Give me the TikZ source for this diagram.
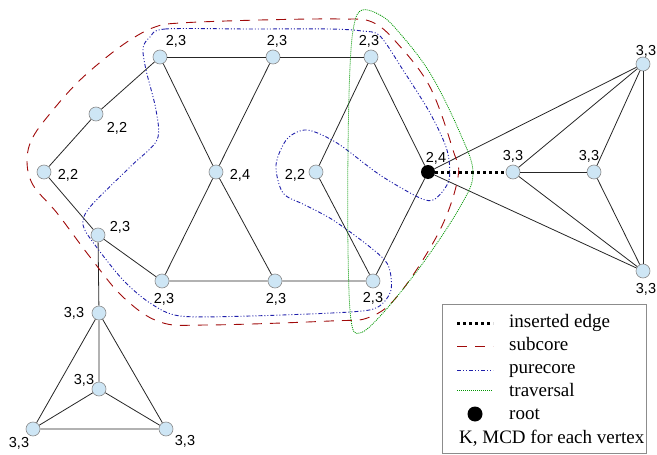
\documentclass[tikz,border=0pt]{standalone}
\usepackage{fontspec}
\setmainfont{Liberation Serif}
\setsansfont{Liberation Sans}
\usepackage{xcolor}
\definecolor{vfill}{RGB}{206,230,245}
\definecolor{subred}{RGB}{160,10,10}
\definecolor{pureblue}{RGB}{30,30,170}
\definecolor{travgreen}{RGB}{0,150,0}

\begin{document}
\begin{tikzpicture}[x=1pt, y=-1pt,
    vertex/.style={circle, draw=black!45, fill=vfill, minimum size=14pt, inner sep=0pt, line width=0.6pt},
    rootv/.style={circle, fill=black, minimum size=14pt, inner sep=0pt},
    klabel/.style={font=\sffamily\fontsize{14.5}{16}\selectfont, inner sep=0pt},
    edge/.style={black!85, line width=0.8pt},
    inserted/.style={black, line width=3pt, dash pattern=on 3pt off 3pt},
    subcore/.style={subred, line width=0.9pt, dash pattern=on 10pt off 8pt},
    purecore/.style={pureblue, line width=0.9pt, dash pattern=on 4pt off 2pt on 1pt off 2pt on 1pt off 2pt},
    traversal/.style={travgreen, line width=0.8pt, dash pattern=on 1pt off 1pt},
    legtext/.style={font=\fontsize{19}{22}\selectfont, anchor=base west, inner sep=0pt}]
        \useasboundingbox (0,0) rectangle (657,455);

        % Vertices
        \node[vertex] (a) at (160,57) {};
        \node[vertex] (b) at (273,57) {};
        \node[vertex] (c) at (371,57) {};
        \node[vertex] (d) at (96,114) {};
        \node[vertex] (e) at (44,172) {};
        \node[vertex] (f) at (216,172) {};
        \node[vertex] (g) at (316,172) {};
        \node[rootv]  (r) at (428,172) {};
        \node[vertex] (h) at (98,235) {};
        \node[vertex] (i) at (162,281) {};
        \node[vertex] (j) at (275,281) {};
        \node[vertex] (k) at (373,281) {};
        \node[vertex] (l) at (513,172) {};
        \node[vertex] (m) at (594,172) {};
        \node[vertex] (n) at (643,64) {};
        \node[vertex] (o) at (643,271) {};
        \node[vertex] (p) at (99,313) {};
        \node[vertex] (q) at (99,389) {};
        \node[vertex] (s) at (33,429) {};
        \node[vertex] (t) at (166,429) {};

        % K, MCD labels
        \node[klabel] (ta) at (176,41) {2,3};
        \node[klabel] (tb) at (277,41) {2,3};
        \node[klabel] (tc) at (369,41) {2,3};
        \node[klabel] (td) at (117,128) {2,2};
        \node[klabel] (te) at (68,175) {2,2};
        \node[klabel] (tf) at (240,175) {2,4};
        \node[klabel] (tg) at (295,175) {2,2};
        \node[klabel] (tr) at (436,158) {2,4};
        \node[klabel] (th) at (120,227) {2,3};
        \node[klabel] (ti) at (164,299) {2,3};
        \node[klabel] (tj) at (276,299) {2,3};
        \node[klabel] (tk) at (373,298) {2,3};
        \node[klabel] (tl) at (513,156) {3,3};
        \node[klabel] (tm) at (589,156) {3,3};
        \node[klabel] (tn) at (646,51) {3,3};
        \node[klabel] (to) at (646,289) {3,3};
        \node[klabel] (tp) at (74,313) {3,3};
        \node[klabel] (tq) at (84,380) {3,3};
        \node[klabel] (ts) at (19,443) {3,3};
        \node[klabel] (tt) at (185,441) {3,3};

        % Edges
        \draw[edge] (a) -- (b) -- (c);
        \draw[edge] (a) -- (d) -- (e) -- (h) -- (i) -- (j) -- (k);
        \draw[edge] (a) -- (f) -- (j);
        \draw[edge] (b) -- (f) -- (i);
        \draw[edge] (c) -- (g) -- (k);
        \draw[edge] (c) -- (r) -- (k);
        \draw[edge] (r) -- (n);
        \draw[edge] (r) -- (o);
        \draw[edge] (l) -- (n);
        \draw[edge] (l) -- (m);
        \draw[edge] (l) -- (o);
        \draw[edge] (m) -- (n);
        \draw[edge] (m) -- (o);
        \draw[edge] (n) -- (o);
        \draw[edge] (h) -- (p) -- (q);
        \draw[edge] (p) -- (s) -- (t) -- (p);
        \draw[edge] (q) -- (s);
        \draw[edge] (q) -- (t);
        \draw[inserted] (r) -- (l);

        % Subcore
        \draw[subcore] plot[smooth cycle, tension=0.6] coordinates {
            (27,160) (33,137) (53,110) (77,83) (103,60) (130,40) (155,27) (180,23)
            (260,20) (340,19) (372,22) (397,43) (430,87) (453,150) (458,177)
            (440,230) (400,293) (370,317) (330,321) (207,325) (160,322) (123,297)
            (90,257) (57,213) (33,185)};

        % Purecore
        \draw[purecore] plot[smooth cycle, tension=0.5] coordinates {
            (150,37) (165,29) (250,29) (330,29) (362,31) (380,36) (403,70) (430,113)
            (447,150) (449,180) (435,199) (420,198) (380,175) (337,143) (307,130)
            (287,139) (276,165) (283,193) (305,205) (333,220) (370,247) (388,265)
            (391,290) (378,307) (350,312) (250,316) (180,316) (150,303) (123,280)
            (95,245) (83,225) (90,207) (130,167) (157,140) (156,110) (146,70) (143,48)};

        % Traversal
        \draw[traversal] plot[smooth cycle, tension=0.6] coordinates {
            (362,10) (380,15) (397,30) (430,73) (460,133) (473,173) (460,207)
            (423,263) (383,313) (360,333) (351,320) (348,250) (348,150) (350,67) (354,25)};

        % Legend
        \node[draw=black!45, line width=0.8pt, fill=white, minimum width=204pt, minimum height=149pt, inner sep=0pt] (legend) at (544.5,378.5) {};
        \coordinate (i1) at (457,323); \coordinate (i2) at (493,323);
        \coordinate (s1) at (457,346); \coordinate (s2) at (493,346);
        \coordinate (p1) at (457,370); \coordinate (p2) at (493,370);
        \coordinate (v1) at (457,390); \coordinate (v2) at (493,390);
        \draw[inserted] (i1) -- (i2);
        \draw[subcore] (s1) -- (s2);
        \draw[purecore] (p1) -- (p2);
        \draw[traversal] (v1) -- (v2);
        \node[rootv, minimum size=15pt] (legroot) at (475,414) {};
        \node[legtext] (l1) at (509,327) {inserted edge};
        \node[legtext] (l2) at (509,350) {subcore};
        \node[legtext] (l3) at (509,373) {purecore};
        \node[legtext] (l4) at (509,396) {traversal};
        \node[legtext] (l5) at (509,419) {root};
        \node[legtext] (l6) at (459,443) {K, MCD for each vertex};
    \end{tikzpicture}
\end{document}
